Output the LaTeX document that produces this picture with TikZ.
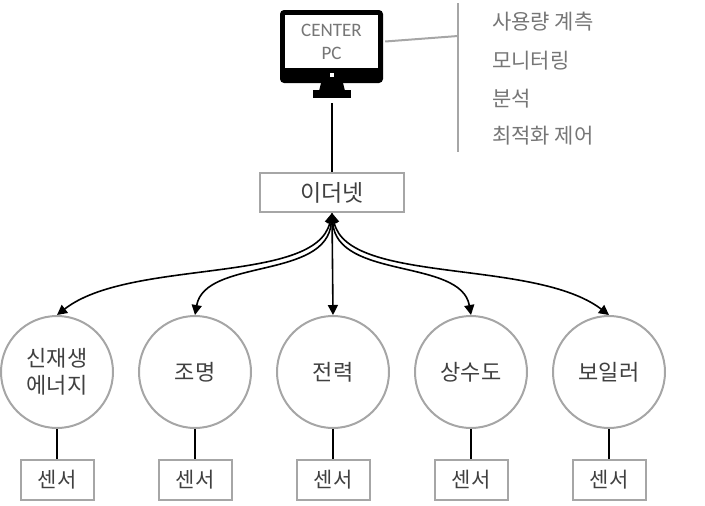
\documentclass[tikz,border=0pt]{standalone}
\usepackage{fontspec}
\newfontfamily\kr{Noto Sans CJK KR}
\newfontfamily\calib{Carlito}
\usetikzlibrary{arrows.meta,calc}
\definecolor{bord}{HTML}{A6A6A6}
\definecolor{txt}{HTML}{404040}
\definecolor{ltxt}{HTML}{767676}
\begin{document}
\begin{tikzpicture}[x=1pt,y=-1pt,
  circ/.style={circle, draw=bord, line width=2pt, minimum size=112pt, inner sep=0pt,
    font=\kr\fontsize{22}{27}\selectfont, text=txt, align=center},
  sbox/.style={draw=bord, line width=2pt, minimum width=73pt, minimum height=40pt, inner sep=0pt,
    font=\kr\fontsize{21}{25}\selectfont, text=txt},
  ebox/.style={draw=bord, line width=2pt, minimum width=144pt, minimum height=39pt, inner sep=0pt,
    font=\kr\fontsize{23}{27}\selectfont, text=txt},
  item/.style={anchor=west, inner sep=0pt, font=\kr\fontsize{21}{24}\selectfont, text=ltxt},
  link/.style={line width=2pt, black},
  glink/.style={line width=2pt, bord},
  arr/.style={line width=1.6pt, {Triangle[length=10pt,width=10pt]}-{Triangle[length=10pt,width=10pt]}}
]
\useasboundingbox (0,0) rectangle (705,506);
% monitor
\node[fill=black, rounded corners=4pt, minimum width=103pt, minimum height=73pt, inner sep=0pt] (mon) at (331.5,46.5) {};
\node[fill=white, minimum width=93pt, minimum height=53pt, inner sep=0pt, align=center,
  font=\calib\fontsize{19}{23}\selectfont, text=ltxt] (scr) at (331.5,41.5) {CENTER\\PC};
\fill[white] (330,73) rectangle (334,77);
\fill[black] (321,83) -- (343,83) -- (345,91) -- (319,91) -- cycle;
\fill[black] (313,90) rectangle (351,98);
\coordinate (pcb) at (332,103);
% side list
\coordinate (vt) at (458,3);
\coordinate (vb) at (458,152);
\coordinate (vm) at (458,36);
\draw[glink] (vt) -- (vb);
\draw[glink] ($(mon.east)+(2,-5)$) -- (vm);
\node[item] (l1) at (492,22) {사용량 계측};
\node[item] (l2) at (492,61) {모니터링};
\node[item] (l3) at (492,99) {분석};
\node[item] (l4) at (492,136) {최적화 제어};
% ethernet
\node[ebox] (eth) at (332,192.5) {이더넷};
\draw[link] (pcb) -- (eth.north);
% circles
\node[circ] (c1) at (57,372) {신재생\\에너지};
\node[circ] (c2) at (195,372) {조명};
\node[circ] (c3) at (333,372) {전력};
\node[circ] (c4) at (471,372) {상수도};
\node[circ] (c5) at (609,372) {보일러};
% sensors
\foreach \i/\x in {1/57,2/195,3/333,4/471,5/609}{
  \node[sbox] (s\i) at (\x,480) {센서};
  \draw[link] (c\i.south) -- (s\i.north);
}
% arrows
\draw[arr] (eth.south) .. controls (316,285) and (130,258) .. (c1.north);
\draw[arr] (eth.south) .. controls (327,280) and (205,258) .. (c2.north);
\draw[arr] (eth.south) -- (c3.north);
\draw[arr] (eth.south) .. controls (337,280) and (461,258) .. (c4.north);
\draw[arr] (eth.south) .. controls (348,285) and (534,258) .. (c5.north);
\end{tikzpicture}
\end{document}
